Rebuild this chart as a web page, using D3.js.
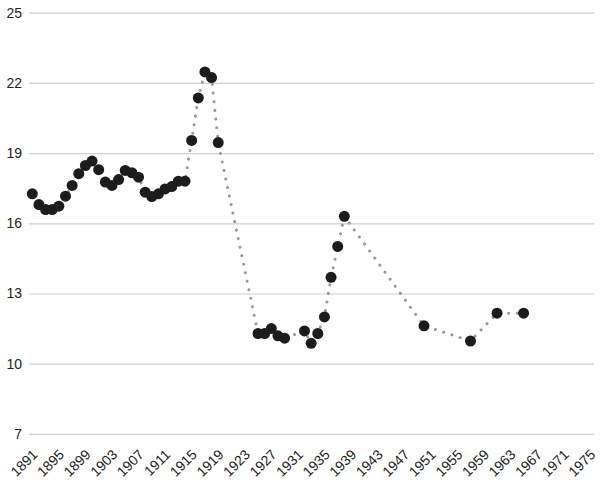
<!DOCTYPE html>
<html>
<head>
<meta charset="utf-8">
<script src="https://cdn.jsdelivr.net/npm/d3@7"></script>
<style>
  html, body { margin: 0; padding: 0; background: #fff; }
  svg { display: block; font-family: "Liberation Sans", Arial, Helvetica, sans-serif; }
</style>
</head>
<body>
<svg id="chart" width="600" height="485"></svg>
<script>
const years = [
  1891,1892,1893,1894,1895,1896,1897,1898,1899,1900,
  1901,1902,1903,1904,1905,1906,1907,1908,1909,1910,
  1911,1912,1913,1914,1915,1916,1917,1918,1919,
  1925,1926,1927,1928,1929,
  1932,1933,1934,1935,1936,1937,1938,
  1950,1957,1961,1965
];
const values = [
  17.26,16.80,16.59,16.59,16.73,17.16,17.62,18.12,18.47,18.66,
  18.29,17.76,17.62,17.87,18.26,18.16,17.97,17.33,17.14,17.26,
  17.47,17.57,17.80,17.80,19.54,21.36,22.47,22.23,19.45,
  11.29,11.29,11.50,11.19,11.09,
  11.40,10.87,11.29,12.00,13.69,15.01,16.30,
  11.62,10.97,12.16,12.16
];
const xTickLabels = [1891,1895,1899,1903,1907,1911,1915,1919,1923,1927,1931,1935,1939,1943,1947,1951,1955,1959,1963,1967,1971,1975];
const yTickLabels = [7,10,13,16,19,22,25];

const svg = d3.select("#chart");
const x = d3.scaleLinear().domain([1891, 1975]).range([32.3, 590]);
const y = d3.scaleLinear().domain([7, 25]).range([433.9, 12.7]);
const gridLeft = 29, gridRight = 594;

// y axis gridlines + labels
const yAxis = d3.axisLeft(y)
  .tickValues(yTickLabels)
  .tickSize(-(gridRight - gridLeft))
  .tickPadding(7)
  .tickFormat(d3.format("d"));
const gy = svg.append("g").attr("transform", `translate(${gridLeft},0)`).call(yAxis);
gy.select(".domain").remove();
gy.selectAll(".tick line").attr("stroke", "#cfcfcf").attr("stroke-width", 1.2);
gy.selectAll(".tick text")
  .attr("fill", "#222")
  .style("font-size", "14px");

// x axis labels (rotated)
const xAxis = d3.axisBottom(x)
  .tickValues(xTickLabels)
  .tickSize(0)
  .tickFormat(d3.format("d"));
const gx = svg.append("g").attr("transform", `translate(0,447)`).call(xAxis);
gx.select(".domain").remove();
gx.selectAll(".tick text")
  .attr("fill", "#222")
  .style("font-size", "14px")
  .attr("text-anchor", "end")
  .attr("x", -2)
  .attr("y", 0)
  .attr("dy", "0.72em")
  .attr("transform", "rotate(-45)");

// data
const data = years.map((yr, i) => ({ year: yr, value: values[i] }));

const line = d3.line().x(d => x(d.year)).y(d => y(d.value));
svg.append("path")
  .datum(data)
  .attr("d", line)
  .attr("fill", "none")
  .attr("stroke", "#9a9a9a")
  .attr("stroke-width", 3)
  .attr("stroke-linecap", "round")
  .attr("stroke-dasharray", "0.1 8.6");

svg.append("g").selectAll("circle")
  .data(data)
  .join("circle")
  .attr("cx", d => x(d.year))
  .attr("cy", d => y(d.value))
  .attr("r", 5.5)
  .attr("fill", "#1c1c1c");
</script>
</body>
</html>
